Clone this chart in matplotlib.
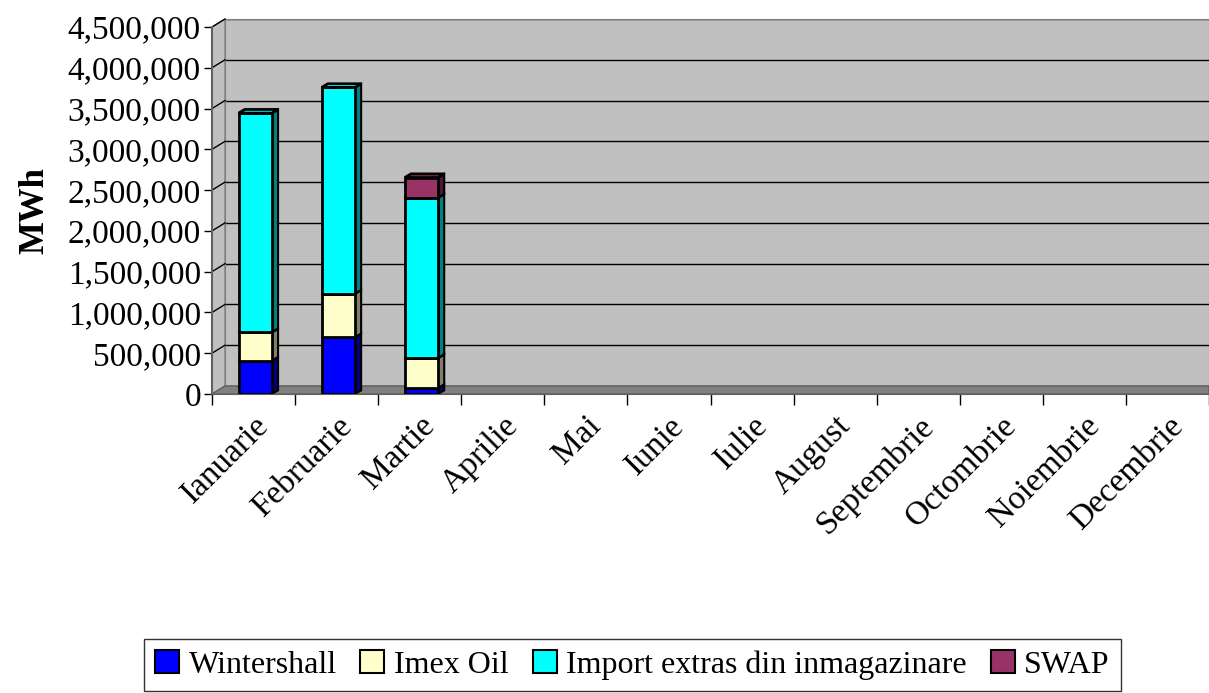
import numpy as np
import matplotlib.pyplot as plt
from matplotlib.patches import Polygon
from matplotlib.lines import Line2D

luni = ['Ianuarie', 'Februarie', 'Martie', 'Aprilie', 'Mai', 'Iunie', 'Iulie',
        'August', 'Septembrie', 'Octombrie', 'Noiembrie', 'Decembrie']
wintershall = [410000, 697000, 74000]
imex_oil = [349000, 535000, 368000]
import_extras = [2685000, 2527000, 1966000]
swap = [0, 0, 246000]

serii = ['Wintershall', 'Imex Oil', 'Import extras din inmagazinare', 'SWAP']
culori = ['#0000FF', '#FFFFCC', '#00FFFF', '#993366']
laterale = ['#000080', '#808066', '#008080', '#4C1933']
yticks = np.arange(0, 4500001, 500000)

plt.rcParams['font.family'] = ['Liberation Serif', 'DejaVu Serif']

W, H = 1209, 693
fig = plt.figure(figsize=(W / 100, H / 100), dpi=100)

# back wall (shifted for the 3D look)
axb = fig.add_axes([225 / W, (H - 386) / H, (W - 225) / W, 367 / H], zorder=0)
axb.set_facecolor('#C0C0C0')
axb.set_ylim(0, 4500000)
axb.set_xlim(0, 1)
axb.set_yticks(yticks)
axb.grid(axis='y', color='black', linewidth=1)
axb.tick_params(left=False, bottom=False, labelleft=False, labelbottom=False)
for s in axb.spines.values():
    s.set_color('#808080')

# left wall and floor
pts_l = [(212, H - 394), (212, H - 27), (225, H - 19), (225, H - 386)]
fig.patches.append(Polygon([(x / W, y / H) for x, y in pts_l], closed=True,
                           transform=fig.transFigure, facecolor='#C0C0C0',
                           edgecolor='#808080', zorder=1))
pts_f = [(212, H - 394), (225, H - 386), (W, H - 386), (W, H - 394)]
fig.patches.append(Polygon([(x / W, y / H) for x, y in pts_f], closed=True,
                           transform=fig.transFigure, facecolor='#808080',
                           edgecolor='#606060', zorder=1))

# front axes
ax = fig.add_axes([212 / W, (H - 394) / H, (W - 212) / W, 367 / H], zorder=3)
ax.patch.set_alpha(0)
ax.set_xlim(0, 12)
ax.set_ylim(0, 4500000)
for k in ['top', 'right']:
    ax.spines[k].set_visible(False)
ax.spines['left'].set_color('#606060')
ax.spines['bottom'].set_color('#606060')
ax.spines['left'].set_linewidth(1.5)

# diagonal grid on the left wall
for t in yticks[1:]:
    p0 = ax.transData.transform((0, t))
    p1 = axb.transData.transform((0, t))
    fig.lines.append(Line2D([p0[0] / W, p1[0] / W], [p0[1] / H, p1[1] / H],
                            transform=fig.transFigure, color='black',
                            linewidth=1, zorder=2))

ax.set_yticks(yticks)
ax.set_yticklabels(['{:,}'.format(v) for v in yticks], fontsize=24)
ax.tick_params(axis='y', length=6, width=1, pad=2)

ax.set_xticks(np.arange(12) + 0.5)
ax.set_xticklabels(luni, rotation=45, ha='right', va='top', fontsize=24,
                   rotation_mode='anchor')
ax.set_xticks(np.arange(13), minor=True)
ax.tick_params(axis='x', which='major', length=0, pad=12)
ax.tick_params(axis='x', which='minor', length=8, width=1)

ax.set_ylabel('MWh', fontsize=25, fontweight='bold', labelpad=12)

# stacked 3D-like bars
date = [wintershall, imex_oil, import_extras, swap]
w = 0.4
dx = 0.075
dy = 45000
x = np.arange(len(wintershall)) + 0.52
jos = np.zeros(len(x))
for nume, val, c, cl in zip(serii, date, culori, laterale):
    val = np.array(val, dtype=float)
    ax.bar(x, val, w, bottom=jos, color=c, edgecolor='black', linewidth=2,
           label=nume, zorder=3)
    for xi, b, v in zip(x, jos, val):
        if v <= 0:
            continue
        side = [(xi + w / 2, b), (xi + w / 2 + dx, b + dy),
                (xi + w / 2 + dx, b + v + dy), (xi + w / 2, b + v)]
        ax.add_patch(Polygon(side, closed=True, facecolor=cl, edgecolor='black',
                             linewidth=1.5, zorder=2))
        top = [(xi - w / 2, b + v), (xi - w / 2 + dx, b + v + dy),
               (xi + w / 2 + dx, b + v + dy), (xi + w / 2, b + v)]
        ax.add_patch(Polygon(top, closed=True, facecolor=c, edgecolor='black',
                             linewidth=2, zorder=2))
    jos = jos + val

leg = fig.legend(loc='lower center', bbox_to_anchor=(0.523, -0.02), ncol=4,
                 fontsize=23, frameon=True, fancybox=False, edgecolor='black',
                 handlelength=0.75, handleheight=0.75, handletextpad=0.3,
                 columnspacing=0.75, borderpad=0.35)
leg.get_frame().set_linewidth(1)
for h in leg.legend_handles:
    h.set_linewidth(1.5)

fig.savefig('out.png', dpi=100)
